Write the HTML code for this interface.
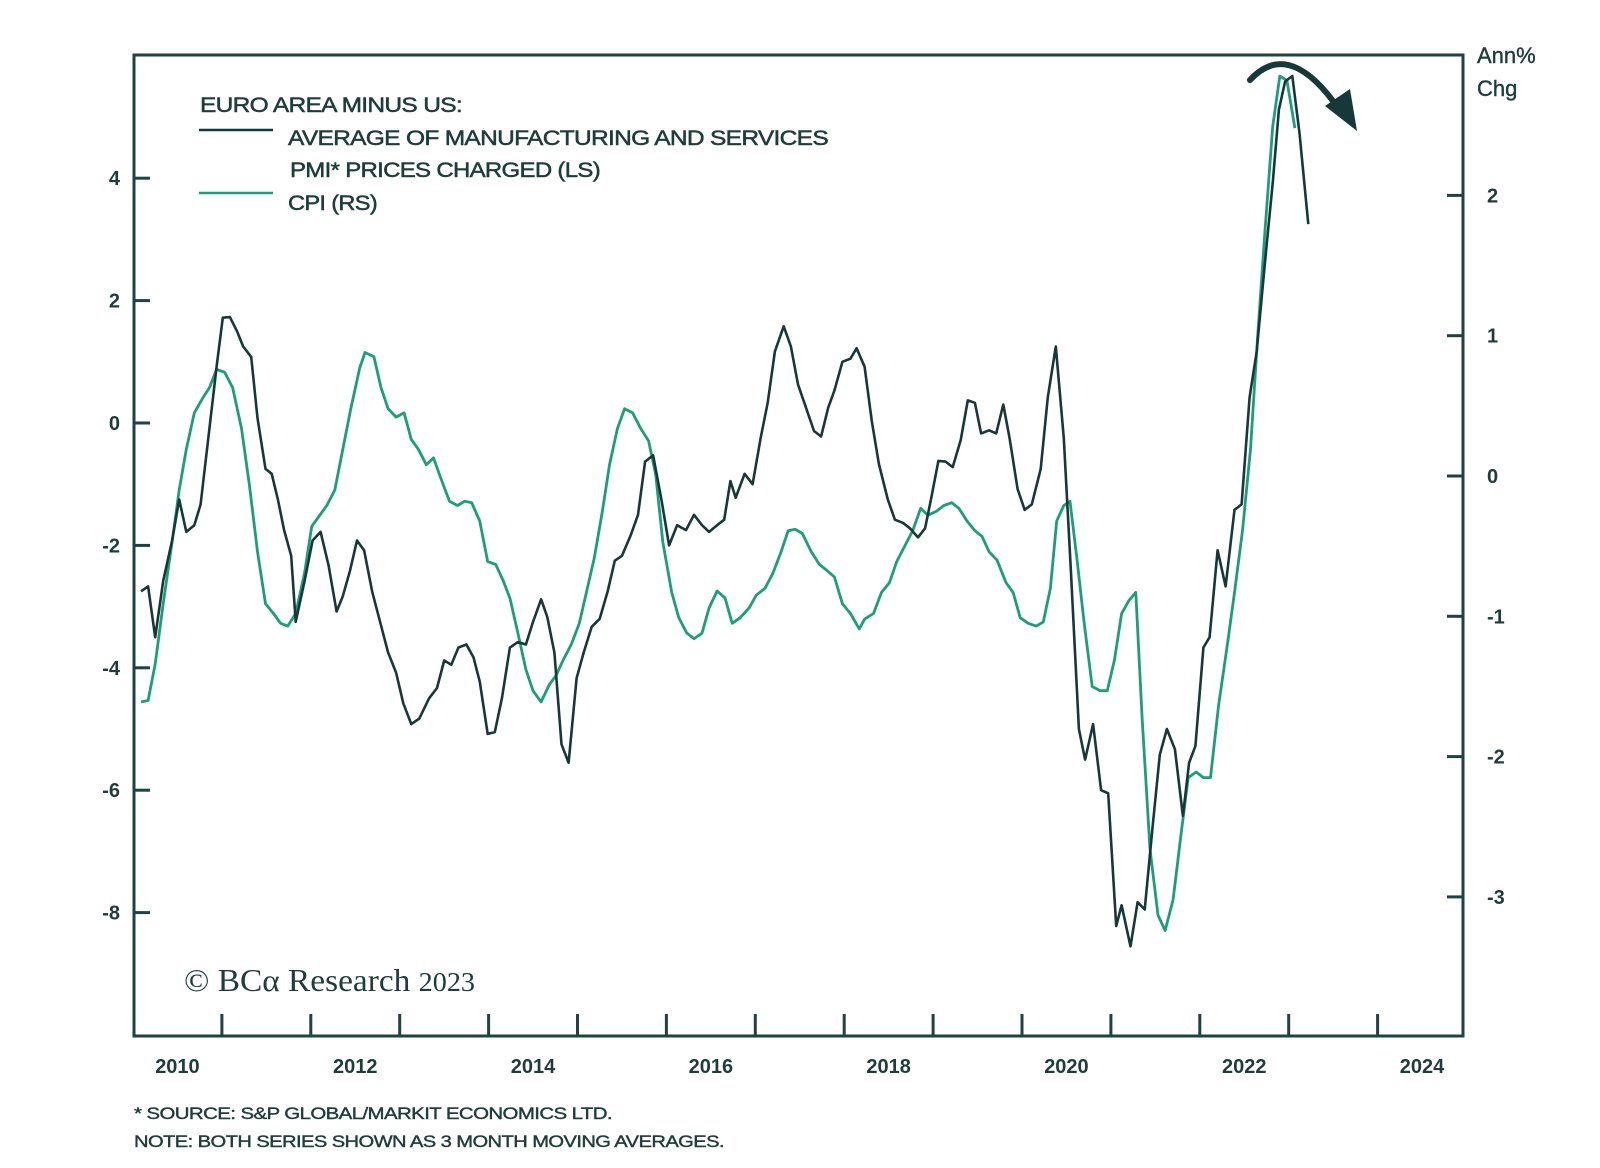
<!DOCTYPE html>
<html><head><meta charset="utf-8"><style>
html,body{margin:0;padding:0;background:#fff;}
svg{display:block;font-family:"Liberation Sans",sans-serif;}
</style></head><body>
<svg id="chart" width="1600" height="1168" viewBox="0 0 1600 1168">
<g id="axes"></g>
<g id="series"></g>
<g fill="#1e3c3c" stroke="#1e3c3c" stroke-width="0.5" font-size="21" letter-spacing="-0.6">
<text x="200" y="112" textLength="262" lengthAdjust="spacingAndGlyphs">EURO AREA MINUS US:</text>
<line x1="199" y1="130" x2="273" y2="130" stroke="#163838" stroke-width="2.5"/>
<text x="288" y="145" textLength="540" lengthAdjust="spacingAndGlyphs">AVERAGE OF MANUFACTURING AND SERVICES</text>
<text x="290" y="177" textLength="310" lengthAdjust="spacingAndGlyphs">PMI* PRICES CHARGED (LS)</text>
<line x1="199" y1="193" x2="273" y2="193" stroke="#1d9e7a" stroke-width="2.5"/>
<text x="288" y="210" textLength="89" lengthAdjust="spacingAndGlyphs">CPI (RS)</text>
</g>
<g fill="#1e3c3c" stroke="#1e3c3c" stroke-width="0.4" font-size="22">
<text x="1477" y="63">Ann%</text><text x="1477" y="96">Chg</text>
</g>
<text x="184" y="991" font-family="'Liberation Serif',serif" font-size="32" fill="#1e3c3c" textLength="291" lengthAdjust="spacingAndGlyphs">© BCα Research <tspan font-size="27">2023</tspan></text>
<g fill="#1e3c3c" stroke="#1e3c3c" stroke-width="0.4" font-size="17" letter-spacing="-0.5">
<text x="134" y="1119" textLength="478" lengthAdjust="spacingAndGlyphs">* SOURCE: S&amp;P GLOBAL/MARKIT ECONOMICS LTD.</text>
<text x="134" y="1147" textLength="590" lengthAdjust="spacingAndGlyphs">NOTE: BOTH SERIES SHOWN AS 3 MONTH MOVING AVERAGES.</text>
</g>
<g>
<path d="M1250,80 Q1287,40 1333,101" fill="none" stroke="#163838" stroke-width="6" stroke-linecap="round"/>
<polygon points="1325,106 1350,89 1357,131" fill="#163838"/>
</g>
</svg>
<script>
const pmiYears=[0.09,0.17,0.25,0.34,0.44,0.52,0.60,0.69,0.76,0.86,0.94,1.01,1.09,1.17,1.24,1.33,1.40,1.49,1.56,1.63,1.70,1.78,1.83,1.93,2.02,2.11,2.20,2.29,2.36,2.44,2.52,2.60,2.69,2.78,2.87,2.96,3.04,3.13,3.22,3.33,3.42,3.50,3.58,3.66,3.75,3.83,3.90,3.99,4.07,4.15,4.24,4.33,4.42,4.50,4.59,4.66,4.74,4.82,4.90,4.99,5.07,5.16,5.25,5.34,5.42,5.50,5.60,5.68,5.76,5.85,5.94,6.03,6.12,6.22,6.31,6.40,6.48,6.57,6.65,6.72,6.78,6.88,6.97,7.06,7.14,7.22,7.32,7.40,7.48,7.57,7.66,7.74,7.82,7.89,7.98,8.07,8.14,8.23,8.31,8.39,8.49,8.57,8.66,8.74,8.83,8.91,8.98,9.06,9.14,9.22,9.31,9.39,9.47,9.54,9.63,9.71,9.79,9.86,9.95,10.03,10.11,10.21,10.29,10.38,10.47,10.55,10.64,10.71,10.80,10.89,10.97,11.06,11.12,11.22,11.30,11.38,11.47,11.55,11.63,11.72,11.81,11.88,11.95,12.04,12.11,12.20,12.29,12.39,12.47,12.56,12.64,12.73,12.82,12.89,12.96,13.04,13.12,13.22];
const pmiValues=[-2.75,-2.67,-3.5,-2.58,-1.92,-1.25,-1.78,-1.67,-1.33,-0.08,0.92,1.72,1.73,1.5,1.25,1.08,0.08,-0.75,-0.83,-1.25,-1.75,-2.17,-3.25,-2.58,-1.92,-1.78,-2.33,-3.08,-2.83,-2.42,-1.92,-2.08,-2.75,-3.25,-3.75,-4.08,-4.58,-4.92,-4.83,-4.5,-4.33,-3.88,-3.95,-3.67,-3.62,-3.83,-4.22,-5.08,-5.05,-4.5,-3.67,-3.58,-3.62,-3.25,-2.88,-3.17,-3.75,-5.25,-5.55,-4.17,-3.75,-3.33,-3.2,-2.75,-2.25,-2.17,-1.83,-1.5,-0.63,-0.53,-1.22,-2.0,-1.67,-1.75,-1.5,-1.67,-1.78,-1.67,-1.58,-0.95,-1.22,-0.83,-1.0,-0.25,0.33,1.17,1.58,1.25,0.63,0.25,-0.13,-0.22,0.25,0.53,1.0,1.05,1.22,0.92,0.03,-0.67,-1.25,-1.58,-1.63,-1.72,-1.87,-1.72,-1.22,-0.62,-0.63,-0.72,-0.28,0.37,0.33,-0.17,-0.12,-0.17,0.3,-0.25,-1.08,-1.42,-1.33,-0.75,0.42,1.25,-0.25,-2.42,-5.0,-5.5,-4.92,-6.0,-6.05,-8.22,-7.88,-8.55,-7.83,-7.95,-6.58,-5.42,-5.0,-5.33,-6.42,-5.55,-5.28,-3.67,-3.5,-2.08,-2.67,-1.42,-1.33,0.42,1.17,2.58,3.92,5.12,5.58,5.67,4.75,3.25];
const cpiYears=[0.09,0.17,0.25,0.34,0.44,0.52,0.60,0.69,0.78,0.86,0.94,1.03,1.12,1.22,1.31,1.40,1.49,1.58,1.66,1.74,1.83,1.93,2.01,2.10,2.18,2.27,2.36,2.45,2.55,2.61,2.71,2.79,2.87,2.96,3.05,3.13,3.21,3.30,3.38,3.47,3.56,3.65,3.73,3.81,3.90,3.99,4.08,4.16,4.24,4.33,4.42,4.50,4.59,4.68,4.76,4.84,4.93,5.02,5.10,5.19,5.28,5.36,5.45,5.53,5.62,5.71,5.80,5.88,5.96,6.06,6.14,6.23,6.31,6.40,6.48,6.57,6.66,6.74,6.83,6.93,7.01,7.11,7.20,7.29,7.37,7.45,7.53,7.63,7.72,7.80,7.89,7.98,8.07,8.17,8.23,8.33,8.42,8.51,8.59,8.68,8.77,8.86,8.94,9.04,9.12,9.21,9.29,9.38,9.47,9.55,9.63,9.72,9.82,9.90,9.98,10.07,10.16,10.24,10.32,10.39,10.47,10.54,10.62,10.70,10.79,10.88,10.96,11.04,11.12,11.20,11.28,11.35,11.44,11.53,11.61,11.70,11.79,11.87,11.96,12.04,12.12,12.21,12.31,12.39,12.48,12.57,12.65,12.73,12.82,12.90,12.98,13.07];
const cpiValues=[-1.61,-1.60,-1.34,-0.91,-0.47,-0.10,0.19,0.45,0.55,0.63,0.76,0.74,0.63,0.34,-0.07,-0.54,-0.91,-0.98,-1.05,-1.07,-0.98,-0.69,-0.36,-0.28,-0.21,-0.10,0.19,0.48,0.77,0.88,0.85,0.63,0.48,0.42,0.45,0.26,0.19,0.08,0.13,-0.03,-0.18,-0.21,-0.18,-0.19,-0.32,-0.61,-0.63,-0.74,-0.87,-1.12,-1.38,-1.53,-1.61,-1.49,-1.42,-1.31,-1.20,-1.05,-0.83,-0.58,-0.25,0.08,0.34,0.48,0.45,0.34,0.25,0.01,-0.47,-0.83,-1.01,-1.12,-1.16,-1.12,-0.94,-0.82,-0.87,-1.05,-1.01,-0.94,-0.85,-0.80,-0.69,-0.54,-0.39,-0.38,-0.41,-0.54,-0.63,-0.67,-0.72,-0.91,-0.98,-1.09,-1.02,-0.98,-0.83,-0.76,-0.61,-0.50,-0.39,-0.23,-0.28,-0.25,-0.21,-0.19,-0.23,-0.32,-0.39,-0.43,-0.54,-0.60,-0.76,-0.83,-1.01,-1.05,-1.07,-1.04,-0.80,-0.32,-0.21,-0.18,-0.60,-1.05,-1.50,-1.53,-1.53,-1.31,-0.98,-0.89,-0.83,-1.71,-2.66,-3.13,-3.24,-3.02,-2.55,-2.15,-2.11,-2.15,-2.15,-1.64,-1.20,-0.83,-0.39,0.19,0.99,1.72,2.49,2.85,2.82,2.48];
const leftTicks=[4,2,0,-2,-4,-6,-8];
const rightTicks=[2,1,0,-1,-2,-3];
const yearLabels=[2010,2012,2014,2016,2018,2020,2022,2024];
const yearTicks=[2011,2012,2013,2014,2015,2016,2017,2018,2019,2020,2021,2022,2023,2024];

const NS="http://www.w3.org/2000/svg";
const L=134,R=1463,T=55,B=1036;
const x=yr=>133+(yr-2010)*88.9;
const yL=v=>423-v*61.2;
const yR=v=>476-v*140.3;
const DARK="#163838",GREEN="#1d9e7a",TXT="#1e3c3c";
function mk(tag,attrs,parent){const e=document.createElementNS(NS,tag);for(const k in attrs)e.setAttribute(k,attrs[k]);parent.appendChild(e);return e;}
const axes=document.getElementById('axes'),series=document.getElementById('series');

const frame=mk('rect',{x:L,y:T,width:R-L,height:B-T,fill:'none',stroke:'#1f4242','stroke-width':3},axes);



leftTicks.forEach(v=>{
  const t=mk('line',{x1:L,x2:L+16,y1:yL(v),y2:yL(v),stroke:'#1f4242','stroke-width':3},axes);
  
  
  const lb=mk('text',{x:120,y:yL(v)+7,'text-anchor':'end','font-size':20,'font-weight':'bold',fill:TXT},axes);
  lb.textContent=v;
  
  
});
rightTicks.forEach(v=>{
  const t=mk('line',{x1:R-16,x2:R,y1:yR(v),y2:yR(v),stroke:'#1f4242','stroke-width':3},axes);
  
  
  const lb=mk('text',{x:1487,y:yR(v)+7,'font-size':20,'font-weight':'bold',fill:TXT},axes);
  lb.textContent=v;
  
  
});
yearTicks.forEach(yr=>{
  const t=mk('line',{x1:x(yr),x2:x(yr),y1:B,y2:B-22,stroke:'#1f4242','stroke-width':3},axes);
  
  
});
yearLabels.forEach(yr=>{
  const lb=mk('text',{x:Math.min(x(yr+0.5),1435),y:1073,'text-anchor':'middle','font-size':20,'font-weight':'bold',fill:TXT},axes);
  lb.textContent=yr;
  
  
});

function line(years,vals,ys){
  return years.map((yr,i)=>(i?'L':'M')+x(2010+yr).toFixed(1)+','+ys(vals[i]).toFixed(1)).join(' ');
}
const cpi=mk('path',{d:line(cpiYears,cpiValues,yR),fill:'none',stroke:GREEN,'stroke-width':2.8,'stroke-linejoin':'round'},series);


const pmi=mk('path',{d:line(pmiYears,pmiValues,yL),fill:'none',stroke:DARK,'stroke-width':2.6,'stroke-linejoin':'round'},series);


</script>
</body></html>
